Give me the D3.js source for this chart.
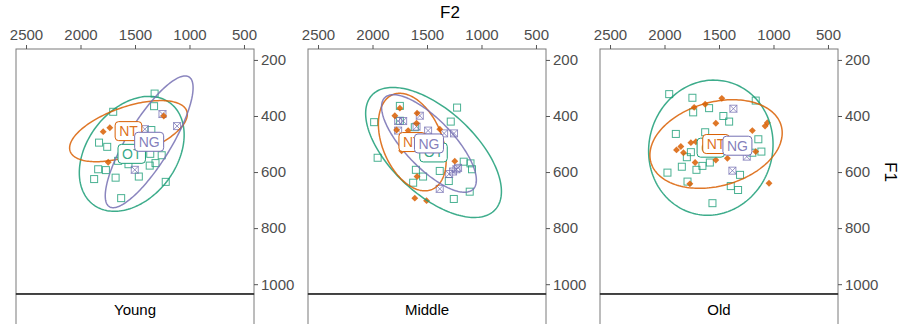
<!DOCTYPE html>
<html lang="en">
  <head>
    <meta charset="UTF-8" />
    <title>F1 / F2 by age</title>
    <style>
      body { margin: 0; background: #fff; }
      text { font-family: "Liberation Sans", Arial, sans-serif; }
    </style>
  </head>
  <body>
    <script src="https://d3js.org/d3.v7.min.js"></script>
    <script>
      const ages = ["Young", "Middle", "Old"];
      const groups = ["OT", "NT", "NG"];
      const f2Ticks = [2500, 2000, 1500, 1000, 500];
      const f1Ticks = [200, 400, 600, 800, 1000];

      // [F2, F1] per token, one list per age panel
      const otPoints = [
        [[1320,320],[1325,365],[1700,385],[1830,495],[1755,510],[1350,450],[1595,530],[1360,535],[1255,540],[1655,560],
         [1560,572],[1365,577],[1312,568],[1838,590],[1767,593],[1875,625],[1678,620],[1465,616],[1218,635],[1627,693]],
        [[1749,364],[1224,370],[1985,422],[1282,420],[1953,549],[1602,592],[1536,616],[1383,596],[1627,638],[1300,632],
         [1163,563],[1101,569],[1087,590],[1108,670],[1254,696],[1612,440],[1749,417],[1450,535]],
        [[1957,322],[1744,335],[1737,387],[1591,372],[1163,345],[1460,400],[1407,420],[1896,464],[1627,458],[1139,483],
         [1758,529],[1795,547],[1111,527],[1841,581],[1707,592],[1652,578],[1584,566],[1973,602],[1789,634],[1307,610],
         [1392,650],[1325,664],[1560,711],[1194,531]]
      ];
      const ntPoints = [
        [[1236,400],[1792,456],[1731,442],[1746,565]],
        [[1749,372],[1795,399],[1591,390],[1596,426],[1779,450],[1673,452],[1383,447],[1245,561],[1591,616],[1612,693],
         [1504,702],[1733,524]],
        [[1474,337],[1728,369],[1627,358],[1529,426],[1077,436],[1056,424],[1194,452],[1850,509],[1890,521],[1826,531],
         [1758,495],[1712,492],[1163,527],[1423,551],[1529,557],[1719,566],[1767,642],[1041,640]]
      ];
      const ngPoints = [
        [[1248,393],[1114,436],[1502,592],[1410,447]],
        [[1566,399],[1765,418],[1719,418],[1596,438],[1765,452],[1490,452],[1343,462],[1252,462],[1230,590],[1261,598],
         [1297,607],[1383,660],[1215,585]],
        [[1368,374],[1245,545],[1377,595]]
      ];

      // group means [F2, F1] per age (label position, ellipse centre)
      const otMean = [[1530,535],[1440,530],[1575,513]];
      const ntMean = [[1560,454],[1635,493],[1527,500]];
      const ngMean = [[1370,492],[1482,498],[1331,506]];

      // ellipse half-spread in F2, half-spread in F1, correlation (null = none)
      const otEllipse = [[481,205,0.33],[623,232,-0.6],[571,241,0.05]];
      const ntEllipse = [[540,109,0.55],[311,174,-0.37],[607,158,0.25]];
      const ngEllipse = [[403,235,0.82],[435,174,-0.75],null];

      const colors = { OT: "#1B9E77", NT: "#D95F02", NG: "#7570B3" };
      const meanBy = { OT: otMean, NT: ntMean, NG: ngMean };
      const ellipseBy = { OT: otEllipse, NT: ntEllipse, NG: ngEllipse };

      const width = 903, height = 324;
      const panelLefts = [16, 308, 600];
      const panelW = 238, plotTop = 49, plotBottom = 294;

      const svg = d3.select("body").append("svg")
        .attr("width", width).attr("height", height);

      const x = d3.scaleLinear().domain([2592, 408]).range([0, panelW]);
      const y = d3.scaleLinear().domain([161, 1035]).range([plotTop, plotBottom]);

      // titles
      svg.append("text").attr("x", 450).attr("y", 18)
        .attr("text-anchor", "middle").attr("font-size", 17).text("F2");
      svg.append("text")
        .attr("transform", "translate(885,172) rotate(90)")
        .attr("text-anchor", "middle").attr("font-size", 17).text("F1");

      const ellipsePath = (c, e) => {
        const [cx, cy] = c, [a, b, r] = e;
        const s = Math.sqrt(1 - r * r);
        return d3.line()
          .x(t => x(cx + a * Math.cos(t)))
          .y(t => y(cy + b * (r * Math.cos(t) + s * Math.sin(t))))
          .curve(d3.curveLinearClosed)(d3.range(0, 2 * Math.PI, Math.PI / 90));
      };

      ages.forEach((age, i) => {
        const g = svg.append("g").attr("transform", `translate(${panelLefts[i]},0)`);

        g.append("rect").attr("x", 0).attr("y", plotTop)
          .attr("width", panelW).attr("height", plotBottom - plotTop)
          .attr("fill", "#fff").attr("stroke", "#7a7a7a").attr("stroke-width", 1);

        // axes
        const ax = g.append("g").attr("transform", `translate(0,${plotTop})`)
          .call(d3.axisTop(x).tickValues(f2Ticks).tickFormat(d3.format("d"))
            .tickSize(4).tickSizeOuter(0).tickPadding(5));
        const ay = g.append("g").attr("transform", `translate(${panelW},0)`)
          .call(d3.axisRight(y).tickValues(f1Ticks).tickFormat(d3.format("d"))
            .tickSize(4).tickSizeOuter(0).tickPadding(3));
        [ax, ay].forEach(a => {
          a.select(".domain").remove();
          a.selectAll("line").attr("stroke", "#555");
          a.selectAll("text").attr("fill", "#4d4d4d").attr("font-size", 15)
            .attr("font-family", "Liberation Sans, Arial, sans-serif");
        });

        const plot = g.append("g");

        // OT: open squares
        plot.selectAll(".ot").data(otPoints[i]).join("rect")
          .attr("x", d => x(d[0]) - 3.5).attr("y", d => y(d[1]) - 3.5)
          .attr("width", 7).attr("height", 7)
          .attr("fill", "none").attr("stroke", colors.OT).attr("stroke-opacity", 0.8);

        // NG: boxed cross
        const ng = plot.selectAll(".ng").data(ngPoints[i]).join("g")
          .attr("transform", d => `translate(${x(d[0])},${y(d[1])})`)
          .attr("stroke", colors.NG).attr("stroke-opacity", 0.75).attr("fill", "none");
        ng.append("rect").attr("x", -3.5).attr("y", -3.5).attr("width", 7).attr("height", 7);
        ng.append("path").attr("d", "M-3.5,-3.5L3.5,3.5M3.5,-3.5L-3.5,3.5");

        // NT: filled diamonds
        plot.selectAll(".nt").data(ntPoints[i]).join("path")
          .attr("transform", d => `translate(${x(d[0])},${y(d[1])})`)
          .attr("d", d3.symbol(d3.symbolDiamond2, 30))
          .attr("fill", colors.NT).attr("fill-opacity", 0.85);

        // ellipses
        groups.forEach(k => {
          const e = ellipseBy[k][i];
          if (!e) return;
          plot.append("path").attr("d", ellipsePath(meanBy[k][i], e))
            .attr("fill", "none").attr("stroke", colors[k])
            .attr("stroke-opacity", 0.85).attr("stroke-width", 1.5);
        });

        // group labels
        groups.forEach(k => {
          const [mx, my] = meanBy[k][i];
          const lg = plot.append("g").attr("transform", `translate(${x(mx)},${y(my)})`);
          const box = lg.append("rect");
          const t = lg.append("text").attr("text-anchor", "middle").attr("dy", "0.36em")
            .attr("font-size", 14).attr("fill", colors[k]).attr("fill-opacity", 0.9).text(k);
          const w = t.node().getComputedTextLength() + 8;
          box.attr("x", -w / 2).attr("y", -9.5).attr("width", w).attr("height", 19)
            .attr("rx", 3.5).attr("fill", "#fff")
            .attr("stroke", colors[k]).attr("stroke-width", 1);
        });

        // strip at the bottom
        g.append("rect").attr("x", 0).attr("y", plotBottom).attr("width", panelW).attr("height", 40)
          .attr("fill", "#fff").attr("stroke", "#7a7a7a");
        g.append("line").attr("x1", 0).attr("x2", panelW).attr("y1", plotBottom).attr("y2", plotBottom)
          .attr("stroke", "#222").attr("stroke-width", 1.6);
        g.append("text").attr("x", panelW / 2).attr("y", 314.5)
          .attr("text-anchor", "middle").attr("font-size", 15).text(age);
      });
    </script>
  </body>
</html>
